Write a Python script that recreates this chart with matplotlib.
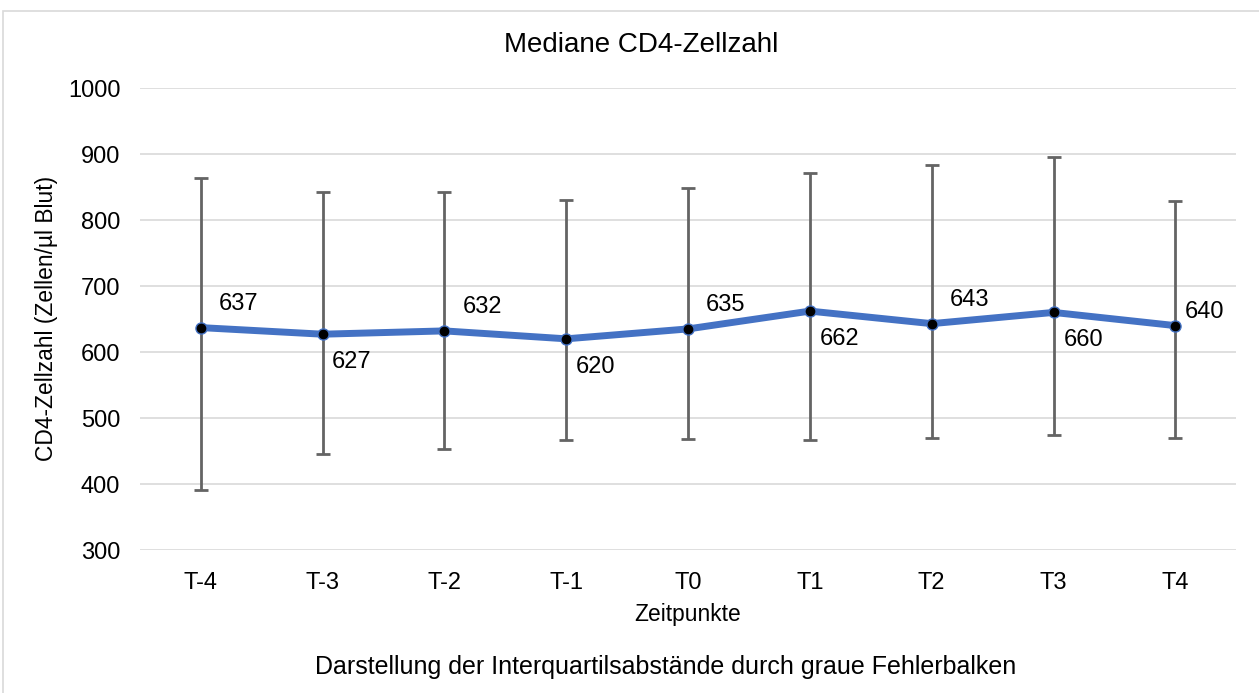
import matplotlib
matplotlib.use("Agg")
import matplotlib.pyplot as plt
from matplotlib.patches import Rectangle

plt.rcParams['font.family'] = ['Liberation Sans', 'DejaVu Sans']

categories = ["T-4", "T-3", "T-2", "T-1", "T0", "T1", "T2", "T3", "T4"]
medians = [637, 627, 632, 620, 635, 662, 643, 660, 640]
q1 = [391, 445, 453, 466, 468, 467, 469, 475, 469]
q3 = [864, 842, 842, 830, 848, 871, 884, 896, 829]
label_pos = ["above", "below", "above", "below", "above", "below", "above", "below", "right"]

fig = plt.figure(figsize=(12.59, 6.93), dpi=100)
ax = fig.add_axes([0.111, 0.2063, 0.871, 0.6667])

# outer chart border
fig.patches.append(Rectangle((3/1259, -0.1), 1.2, 1 - 11/693 + 0.1, transform=fig.transFigure,
                             fill=False, edgecolor="#d9d9d9", linewidth=1.2))

x = list(range(len(categories)))
lower = [m - a for m, a in zip(medians, q1)]
upper = [b - m for m, b in zip(medians, q3)]

ax.errorbar(x, medians, yerr=[lower, upper], fmt="none", ecolor="#646464",
            elinewidth=2, capsize=5, capthick=2, zorder=2)
ax.plot(x, medians, color="#4472C4", linewidth=5, solid_capstyle="round", zorder=3)
ax.plot(x, medians, linestyle="none", marker="o", markersize=8, markerfacecolor="black",
        markeredgecolor="#4472C4", markeredgewidth=1, zorder=4)

for xi, m, pos in zip(x, medians, label_pos):
    if pos == "above":
        off = (13, 17)
    elif pos == "below":
        off = (7, -20)
    else:
        off = (7, 10)
    ax.annotate(str(m), (xi, m), xytext=off, textcoords="offset points",
                ha="left", va="center", fontsize=17, color="black", zorder=5)

ax.set_xlim(-0.5, len(categories) - 0.5)
ax.set_ylim(300, 1000)
ax.set_yticks(range(300, 1001, 100))
ax.set_xticks(x)
ax.set_xticklabels(categories)
ax.yaxis.grid(True, color="#d9d9d9", linewidth=1.2)
ax.set_axisbelow(True)
for s in ax.spines.values():
    s.set_visible(False)
ax.tick_params(axis="both", length=0, labelsize=17, colors="black")
ax.tick_params(axis="x", pad=16)
ax.tick_params(axis="y", pad=14)

fig.text(641/1259, 1 - 45/693, "Mediane CD4-Zellzahl", ha="center", va="center", fontsize=20)
fig.text(688/1259, 1 - 614/693, "Zeitpunkte", ha="center", va="center", fontsize=16.4)
fig.text(47/1259, 1 - 318/693, "CD4-Zellzahl (Zellen/µl Blut)", ha="center", va="center",
         rotation=90, fontsize=16.4)
fig.text(666/1259, 1 - 667/693, "Darstellung der Interquartilsabstände durch graue Fehlerbalken",
         ha="center", va="center", fontsize=18)

fig.savefig("out.png", dpi=100, facecolor="white")
